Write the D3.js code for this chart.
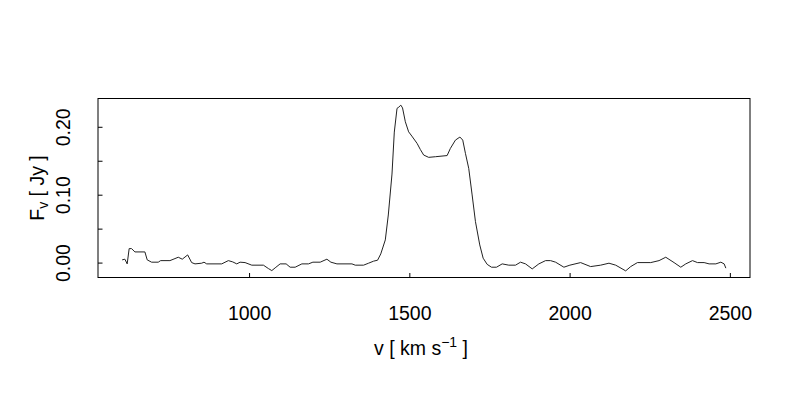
<!DOCTYPE html>
<html>
<head>
<meta charset="utf-8">
<script src="https://cdn.jsdelivr.net/npm/d3@7"></script>
<style>
  html, body { margin: 0; padding: 0; background: #fff; }
  svg { display: block; font-family: "Liberation Sans", Arial, Helvetica, sans-serif; }
</style>
</head>
<body>
<svg id="chart" width="800" height="400"></svg>
<script>
// Velocity (km/s) of each spectrum sample
const velocity = [
  604, 612.5, 619.7, 625.9, 633.4, 643.8, 675, 682.2, 695.9, 716.6,
  724.1, 753.1, 768.8, 779.1, 791.6, 808.4, 820.9, 831.3, 852.2, 859.4,
  867.8, 914.7, 935.3, 949.1, 961.6, 971.9, 987.5, 1008.4, 1044.7, 1060.3,
  1070.9, 1081.3, 1096.9, 1115.6, 1128.1, 1143.8, 1164.7, 1185.3, 1199.1, 1221.9,
  1242.8, 1255.3, 1274.1, 1320.9, 1331.3, 1357.2, 1372.8, 1388.4, 1400.9, 1410.9,
  1425, 1434.4, 1445.9, 1453.1, 1461.6, 1467.2, 1473.4, 1478.8, 1487.5, 1497.8,
  1507.8, 1524.1, 1534.4, 1544.7, 1560.3, 1581.3, 1617.8, 1628.1, 1643.8, 1657.8,
  1666.6, 1675, 1685.3, 1695.9, 1706.3, 1719.7, 1730.3, 1742.8, 1756.3, 1771.9,
  1789.7, 1810.3, 1831.3, 1846.9, 1862.5, 1883.4, 1904.1, 1925, 1940.6, 1956.3,
  1982.2, 2000.9, 2034.4, 2065.6, 2096.9, 2122.8, 2143.8, 2175, 2190.6, 2211.6,
  2253.1, 2279.1, 2300, 2325.9, 2346.9, 2362.5, 2383.4, 2399.1, 2419.7, 2435.3,
  2456.3, 2471.9, 2482.2, 2487.5
];
// Flux density (Jy) of each spectrum sample
const flux = [
  0.0040, 0.0050, -0.0019, 0.0206, 0.0206, 0.0157, 0.0157, 0.0040, 0.0006, 0.0006,
  0.0029, 0.0029, 0.0059, 0.0079, 0.0050, 0.0113, 0.0000, -0.0019, -0.0009, 0.0006,
  -0.0019, -0.0019, 0.0029, 0.0010, -0.0019, 0.0006, 0.0000, -0.0038, -0.0038, -0.0088,
  -0.0118, -0.0078, -0.0019, -0.0019, -0.0068, -0.0068, -0.0019, -0.0019, 0.0006, 0.0006,
  0.0050, 0.0006, -0.0019, -0.0019, -0.0038, -0.0038, -0.0009, 0.0021, 0.0035, 0.0128,
  0.0334, 0.0701, 0.1304, 0.1922, 0.2271, 0.2290, 0.2319, 0.2278, 0.2074, 0.1926,
  0.1863, 0.1756, 0.1665, 0.1584, 0.1550, 0.1559, 0.1576, 0.1682, 0.1804, 0.1849,
  0.1804, 0.1609, 0.1388, 0.0996, 0.0603, 0.0260, 0.0065, -0.0026, -0.0068, -0.0068,
  -0.0019, -0.0038, -0.0038, 0.0006, -0.0019, -0.0093, -0.0019, 0.0029, 0.0029, 0.0006,
  -0.0068, -0.0038, 0.0000, -0.0059, -0.0038, -0.0009, -0.0038, -0.0122, -0.0059, 0.0000,
  0.0000, 0.0029, 0.0079, 0.0000, -0.0068, -0.0019, 0.0029, 0.0000, 0.0000, -0.0019,
  -0.0019, 0.0006, -0.0019, -0.0082
];
const xTicks = [1000, 1500, 2000, 2500];
const yTicks = [0, 0.05, 0.10, 0.15, 0.20];
const yTickLabels = ["0.00", "", "0.10", "", "0.20"];

(function () {
const svg = d3.select("#chart");
const mLeft = 98, mRight = 750, mTop = 98.5, mBottom = 277.5;
const fontSize = 19.5;
const ff = "Liberation Sans, Arial, sans-serif";

function padExtent(arr) {
  const [a, b] = d3.extent(arr);
  const p = (b - a) * 0.04;
  return [a - p, b + p];
}

const x = d3.scaleLinear().domain(padExtent(velocity)).range([mLeft, mRight]);
const y = d3.scaleLinear().domain(padExtent(flux)).range([mBottom, mTop]);

const pts = velocity.map((v, i) => [v, flux[i]]);

// spectrum line
svg.append("path")
  .datum(pts)
  .attr("fill", "none")
  .attr("stroke", "#222")
  .attr("stroke-width", 1)
  .attr("stroke-linejoin", "round")
  .attr("d", d3.line().x(d => x(d[0])).y(d => y(d[1])));

// box
svg.append("rect")
  .attr("x", mLeft).attr("y", mTop)
  .attr("width", mRight - mLeft).attr("height", mBottom - mTop)
  .attr("fill", "none").attr("stroke", "#000").attr("stroke-width", 1);

// x axis (ticks inward)
const gx = svg.append("g")
  .attr("transform", `translate(0,${mBottom})`)
  .call(d3.axisBottom(x).tickValues(xTicks).tickSize(-4.5).tickPadding(42).tickFormat(d3.format("d")));
gx.select(".domain").remove();
gx.selectAll(".tick line").attr("stroke", "#000");
gx.selectAll("text")
  .attr("font-size", fontSize).attr("font-family", ff)
  .attr("fill", "#000").attr("dy", 0);

// y axis (ticks inward, labels rotated)
const gy = svg.append("g")
  .attr("transform", `translate(${mLeft},0)`)
  .call(d3.axisLeft(y).tickValues(yTicks).tickSize(-4.5).tickFormat((d, i) => yTickLabels[i]));
gy.select(".domain").remove();
gy.selectAll(".tick line").attr("stroke", "#000");
gy.selectAll("text")
  .attr("font-size", fontSize).attr("font-family", ff)
  .attr("fill", "#000")
  .attr("x", null).attr("dy", null)
  .attr("text-anchor", "middle")
  .attr("transform", "translate(-28,0) rotate(-90)");

// x title
const xt = svg.append("text")
  .attr("x", (mLeft + mRight) / 2 - 3).attr("y", 355)
  .attr("text-anchor", "middle")
  .attr("font-family", ff)
  .attr("font-size", fontSize).attr("fill", "#000");
xt.append("tspan").text("v [ km s");
xt.append("tspan").attr("dy", -8).attr("font-size", 14).text("\u22121");
xt.append("tspan").attr("dy", 8).text(" ]");

// y title
const yt = svg.append("text")
  .attr("transform", `translate(44,${(mTop + mBottom) / 2}) rotate(-90)`)
  .attr("text-anchor", "middle")
  .attr("font-family", ff)
  .attr("font-size", fontSize).attr("fill", "#000");
yt.append("tspan").text("F");
yt.append("tspan").attr("dy", 4).attr("font-size", 14).text("v");
yt.append("tspan").attr("dy", -4).text(" [ Jy ]");
})();
</script>
</body>
</html>
